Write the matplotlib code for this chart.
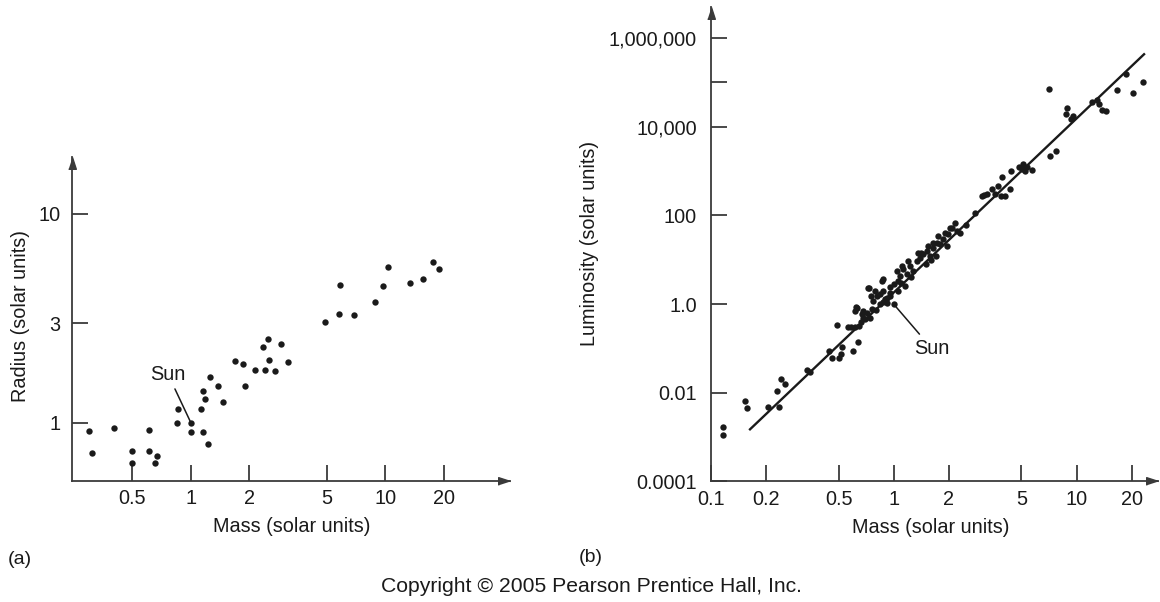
import matplotlib.pyplot as plt
from matplotlib.ticker import NullLocator

plt.rcParams['font.family'] = ['Liberation Sans', 'DejaVu Sans']

# (a) mass-radius, main-sequence stars (solar units)
mass_a = [0.30, 0.31, 0.40, 0.50, 0.50, 0.61, 0.61, 0.65, 0.67, 0.85, 0.86,
          1.00, 1.00, 1.13, 1.15, 1.18, 1.15, 1.23, 1.26, 1.38, 1.46,
          1.69, 1.86, 1.90, 2.15, 2.35, 2.49, 2.42, 2.52, 2.72, 2.92, 3.18,
          4.93, 5.78, 5.87, 6.92, 8.91, 9.80, 10.4, 13.5, 15.6, 17.7, 18.9]
radius_a = [0.91, 0.72, 0.94, 0.73, 0.64, 0.92, 0.73, 0.64, 0.69, 1.00, 1.16,
            0.90, 1.00, 1.16, 1.42, 1.30, 0.90, 0.79, 1.65, 1.50, 1.26,
            1.98, 1.92, 1.50, 1.79, 2.30, 2.51, 1.79, 2.00, 1.76, 2.39, 1.95,
            3.04, 3.31, 4.54, 3.28, 3.79, 4.51, 5.56, 4.67, 4.87, 5.87, 5.42]

# (b) mass-luminosity (solar units)
mass_b = [0.116, 0.116, 0.154, 0.158, 0.205, 0.237, 0.230, 0.242, 0.256,
          0.334, 0.349, 0.443, 0.462, 0.502, 0.517, 0.520, 0.489, 0.602,
          0.635, 0.563, 0.615, 0.649, 0.583, 0.623, 0.615, 0.670, 0.683,
          0.713, 0.743, 0.759, 0.736, 0.750, 0.774, 0.808, 0.843, 0.878,
          0.917, 0.956, 0.861, 0.878, 1.00, 1.04, 1.08, 1.06, 1.13, 1.18,
          1.23, 1.20, 1.28, 1.34, 1.39, 1.36, 1.45, 1.52, 1.55, 1.58, 1.65,
          1.72, 1.79, 1.75, 1.87, 1.91, 1.99, 2.03, 2.17, 2.21, 2.79, 3.03,
          3.23, 3.44, 3.58, 3.12, 3.74, 3.85, 4.06, 4.33, 3.90, 4.37, 4.87,
          5.01, 5.12, 5.23, 5.34, 5.69, 7.16, 7.73, 7.10, 8.91, 8.77, 9.30,
          9.61, 12.1, 12.9, 13.3, 13.7, 14.5, 16.7, 18.7, 20.3, 23.0,
          0.727, 0.791, 1.00, 0.956, 0.843, 0.917, 0.683, 0.628,
          1.11, 1.42, 1.65, 2.08,
          0.70, 0.80, 0.90, 0.95, 1.05, 1.10, 1.25, 1.50, 1.70, 1.95,
          2.30, 2.50, 0.66, 0.88, 1.15, 1.60]
lum_b = [0.00172, 0.00112, 0.0066, 0.0045, 0.0048, 0.0048, 0.011, 0.0203,
         0.0154, 0.0327, 0.0292, 0.089, 0.0618, 0.0605, 0.0734, 0.1086,
         0.338, 0.089, 0.139, 0.300, 0.308, 0.316, 0.311, 0.85, 0.69, 0.60,
         0.487, 0.632, 0.487, 0.755, 2.26, 1.51, 1.16, 1.51, 1.65, 1.96,
         1.38, 1.79, 3.30, 3.60, 1.00, 5.56, 4.28, 3.30, 6.07, 4.68, 7.21,
         9.36, 5.56, 9.36, 11.1, 14.4, 13.3, 15.8, 20.5, 12.1, 18.7, 24.3,
         22.4, 34.5, 29.0, 40.9, 37.6, 53.1, 68.9, 44.7, 116, 277, 303, 393,
         303, 292, 467, 277, 277, 393, 746, 984, 1256, 1114, 1448, 1020,
         1213, 1059, 2230, 2900, 69700, 26800, 18900, 15100, 17000, 35900,
         39200, 33000, 23300, 22500, 68500, 152000, 57400, 104000,
         2.33, 1.96, 2.78, 1.51, 0.98, 1.06, 0.69, 0.82,
         7.21, 14.4, 24.3, 53.1,
         0.45, 0.75, 1.30, 2.40, 2.00, 3.00, 4.00, 8.00, 12.0, 20.0,
         40.0, 60.0, 0.40, 1.10, 2.60, 10.0]

# straight-line fit drawn through the mass-luminosity points
fit_mass = [0.164, 23.4]
fit_lum = [0.0015, 4.3e5]

sun = (1.0, 1.0)

ink = '#1a1a1a'
axis_col = '#3a3a3a'

fig = plt.figure(figsize=(11.6, 6.02), dpi=100)
ax1 = fig.add_axes([0.0621, 0.2015, 0.3776, 0.5377])
ax2 = fig.add_axes([0.6127, 0.2002, 0.3856, 0.7882])


def style_axes(ax, ypad):
    ax.set_xscale('log')
    ax.set_yscale('log')
    ax.spines[['top', 'right']].set_visible(False)
    ax.spines[['left', 'bottom']].set_linewidth(1.3)
    ax.spines[['left', 'bottom']].set_color(axis_col)
    ax.xaxis.set_minor_locator(NullLocator())
    ax.yaxis.set_minor_locator(NullLocator())
    ax.tick_params(direction='in', length=11.5, width=1.3, color=axis_col,
                   labelsize=14.3, labelcolor=ink)
    ax.tick_params(axis='x', pad=6)
    ax.tick_params(axis='y', pad=ypad)
    # arrow heads at the axis ends
    head_x = [(0, 0), (-2, 0.65), (-2, -0.65)]
    head_y = [(0, 0), (0.65, -2), (-0.65, -2)]
    ax.plot(1, 0, marker=head_x, ms=17, color=axis_col, lw=0,
            transform=ax.transAxes, clip_on=False)
    ax.plot(0, 1, marker=head_y, ms=17, color=axis_col, lw=0,
            transform=ax.transAxes, clip_on=False)


# ---- (a) radius vs mass
style_axes(ax1, 8.5)
ax1.scatter(mass_a, radius_a, s=21, color=ink, linewidths=0, zorder=3)
ax1.set_xlim(0.2444, 44.0)
ax1.set_ylim(0.528, 18.7)
ax1.set_xticks([0.5, 1, 2, 5, 10, 20], ['0.5', '1', '2', '5', '10', '20'])
ax1.set_yticks([1, 3, 10], ['1', '3', '10'])
ax1.set_xlabel('Mass (solar units)', fontsize=14.3, color=ink)
ax1.set_ylabel('Radius (solar units)', fontsize=14.3, color=ink)
ax1.xaxis.set_label_coords(0.5016, -0.142)
ax1.yaxis.set_label_coords(-0.117, 0.509)
ax1.xaxis.label.set_va('center')
ax1.yaxis.label.set_va('center')
ax1.annotate('Sun', xy=sun, xytext=(-16.5, 35), textcoords='offset points',
             ha='center', va='center', fontsize=14.3, color=ink,
             arrowprops=dict(arrowstyle='-', color=ink, lw=1.1,
                             shrinkA=2, shrinkB=1))

# ---- (b) luminosity vs mass
style_axes(ax2, 10)
ax2.scatter(mass_b, lum_b, s=21, color=ink, linewidths=0, zorder=3)
ax2.plot(fit_mass, fit_lum, color=ink, lw=1.7, zorder=2)
ax2.set_xlim(0.1, 27.9)
ax2.set_ylim(1e-4, 5.0e6)
ax2.set_xticks([0.1, 0.2, 0.5, 1, 2, 5, 10, 20],
               ['0.1', '0.2', '0.5', '1', '2', '5', '10', '20'])
ax2.set_yticks([1e-4, 1e-2, 1, 1e2, 1e4, 1e5, 1e6],
               ['0.0001', '0.01', '1.0', '100', '10,000', '', '1,000,000'])
ax2.set_xlabel('Mass (solar units)', fontsize=14.3, color=ink)
ax2.set_ylabel('Luminosity (solar units)', fontsize=14.3, color=ink)
ax2.xaxis.set_label_coords(0.4925, -0.098)
ax2.yaxis.set_label_coords(-0.270, 0.5026)
ax2.xaxis.label.set_va('center')
ax2.yaxis.label.set_va('center')
ax2.annotate('Sun', xy=sun, xytext=(27.5, -32), textcoords='offset points',
             ha='center', va='center', fontsize=14.3, color=ink,
             arrowprops=dict(arrowstyle='-', color=ink, lw=1.1,
                             shrinkA=2, shrinkB=1))

# panel letters and credit line
fig.text(20 / 1160, 1 - 559 / 602, '(a)', fontsize=14, color=ink,
         ha='center', va='center')
fig.text(591 / 1160, 1 - 557 / 602, '(b)', fontsize=14, color=ink,
         ha='center', va='center')
fig.text(591 / 1160, 1 - 592 / 602,
         'Copyright \u00a9 2005 Pearson Prentice Hall, Inc.',
         fontsize=15.2, color=ink, ha='center', va='baseline')

fig.savefig('out.png', dpi=100, facecolor='white')
